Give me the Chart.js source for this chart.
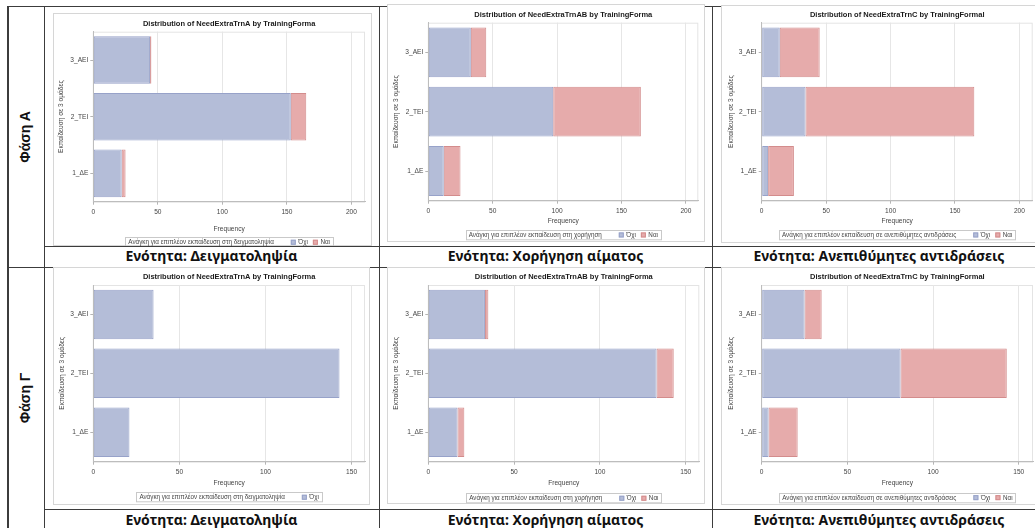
<!DOCTYPE html>
<html lang="el">
<head>
<meta charset="utf-8">
<title>Ανάγκη για επιπλέον εκπαίδευση ανά εκπαίδευση</title>
<script src="https://cdn.jsdelivr.net/npm/chart.js@4.4.1/dist/chart.umd.min.js"></script>
<style>
  html, body { margin: 0; padding: 0; background: #fff; }
  body { width: 1035px; height: 528px; position: relative; overflow: hidden; }
  .hl, .vl { position: absolute; background: #3c3c3c; }
  .hl { height: 1.5px; }
  .vl { width: 1.5px; }
  canvas { position: absolute; }
  .cap {
    position: absolute; text-align: center; white-space: nowrap;
    font-family: "Noto Sans", "Open Sans", sans-serif; font-weight: 700;
    font-size: 14px; color: #111; line-height: 18px;
  }
  .phase {
    position: absolute; white-space: nowrap; text-align: center;
    font-family: "Liberation Sans", Arial, sans-serif; font-weight: 700;
    font-size: 14px; color: #111; width: 120px; line-height: 16px;
    transform: translate(-50%, -50%) rotate(-90deg);
  }
</style>
</head>
<body>

<!-- table rules -->
<div class="hl" style="left:7px; top:5.5px; width:1040px;"></div>
<div class="vl" style="left:7px; top:6px; height:530px;"></div>
<div class="vl" style="left:43.5px; top:6px; height:530px;"></div>
<div class="vl" style="left:378.8px; top:6px; height:530px;"></div>
<div class="vl" style="left:711.8px; top:6px; height:530px;"></div>
<div class="hl" style="left:44px; top:245.5px; width:1000px;"></div>
<div class="hl" style="left:7px; top:266.8px; width:1040px;"></div>
<div class="hl" style="left:44px; top:508.8px; width:1000px;"></div>

<div class="phase" style="left:25px; top:137px;">Φάση Α</div>
<div class="phase" style="left:25px; top:398px;">Φάση Γ</div>

<div class="cap" style="left:44px; width:335px; top:247px;">Ενότητα: Δειγματοληψία</div>
<div class="cap" style="left:379px; width:333px; top:247px;">Ενότητα: Χορήγηση αίματος</div>
<div class="cap" style="left:712px; width:334px; top:247px;">Ενότητα: Ανεπιθύμητες αντιδράσεις</div>
<div class="cap" style="left:44px; width:335px; top:511px;">Ενότητα: Δειγματοληψία</div>
<div class="cap" style="left:379px; width:333px; top:511px;">Ενότητα: Χορήγηση αίματος</div>
<div class="cap" style="left:712px; width:334px; top:511px;">Ενότητα: Ανεπιθύμητες αντιδράσεις</div>

<canvas id="c1"></canvas>
<canvas id="c2"></canvas>
<canvas id="c3"></canvas>
<canvas id="c4"></canvas>
<canvas id="c5"></canvas>
<canvas id="c6"></canvas>

<script>
// Training groups, top to bottom
const categories = ['3_ΑΕΙ', '2_ΤΕΙ', '1_ΔΕ'];
const answerNo = 'Όχι';
const answerYes = 'Ναι';

// Phase A: frequency of "no" / "yes" answers per group
const samplingA_no = [44, 153, 22];
const samplingA_yes = [1, 12, 3];
const bloodA_no = [33, 97, 12];
const bloodA_yes = [12, 68, 13];
const reactA_no = [14, 34, 5];
const reactA_yes = [31, 131, 20];

// Phase Γ
const samplingG_no = [35, 143, 21];
const bloodG_no = [33, 133, 17];
const bloodG_yes = [2, 10, 4];
const reactG_no = [25, 81, 4];
const reactG_yes = [10, 62, 17];

// Frequency axis ticks
const freqTicksA = [0, 50, 100, 150, 200];
const freqTicksG = [0, 50, 100, 150];

const titleSampling = 'Distribution of NeedExtraTrnA by TrainingForma';
const titleBlood = 'Distribution of NeedExtraTrnAB by TrainingForma';
const titleReact = 'Distribution of NeedExtraTrnC by TrainingFormal';
const legendSampling = 'Ανάγκη για επιπλέον εκπαίδευση στη δειγματοληψία';
const legendBlood = 'Ανάγκη για επιπλέον εκπαίδευση στη χορήγηση';
const legendReact = 'Ανάγκη για επιπλέον εκπαίδευση σε ανεπιθύμητες αντιδράσεις';
const yAxisTitle = 'Εκπαίδευση σε 3 ομάδες';
const xAxisTitle = 'Frequency';

const FONT = '"Liberation Sans", Arial, sans-serif';
const NO_FILL = '#b4bdd8', NO_EDGE = '#97a2c9';
const YES_FILL = '#e6abab', YES_EDGE = '#d38c8c';

// Panel geometry (page pixels): frame box, plot box, text rows
const panels = [
  { id: 'c1', frame: [53, 13, 372, 246], plot: [93.3, 31.7, 365, 201.7], titleY: 24, freqY: 229.3, legTop: 237.3, yTitleX: 60.7, xmax: 210.5, ticks: freqTicksA,
    title: titleSampling, legend: legendSampling, series: [[answerNo, samplingA_no], [answerYes, samplingA_yes]] },
  { id: 'c2', frame: [387, 4, 705, 242], plot: [428.3, 22.7, 698.3, 200.7], titleY: 15, freqY: 220.7, legTop: 230, yTitleX: 395.7, xmax: 209.6, ticks: freqTicksA,
    title: titleBlood, legend: legendBlood, series: [[answerNo, bloodA_no], [answerYes, bloodA_yes]] },
  { id: 'c3', frame: [721, 5, 1036, 243], plot: [761.7, 22.7, 1032.7, 200.7], titleY: 15, freqY: 220.7, legTop: 230, yTitleX: 730.7, xmax: 210.3, ticks: freqTicksA,
    title: titleReact, legend: legendReact, series: [[answerNo, reactA_no], [answerYes, reactA_yes]] },
  { id: 'c4', frame: [53, 267, 370, 505], plot: [93.3, 285, 365, 461.7], titleY: 277.3, freqY: 482.7, legTop: 492.3, yTitleX: 61.7, xmax: 157.8, ticks: freqTicksG,
    title: titleSampling, legend: legendSampling, series: [[answerNo, samplingG_no]] },
  { id: 'c5', frame: [387, 267, 705, 504], plot: [428.3, 285, 699.3, 461.7], titleY: 277.3, freqY: 483.3, legTop: 493.3, yTitleX: 396, xmax: 157.9, ticks: freqTicksG,
    title: titleBlood, legend: legendBlood, series: [[answerNo, bloodG_no], [answerYes, bloodG_yes]] },
  { id: 'c6', frame: [721, 267, 1036, 505], plot: [761.7, 285, 1033, 461.7], titleY: 277.3, freqY: 482.7, legTop: 492.7, yTitleX: 730.7, xmax: 158.3, ticks: freqTicksG,
    title: titleReact, legend: legendReact, series: [[answerNo, reactG_no], [answerYes, reactG_yes]] }
];

// Frame, plot wall, titles and the boxed inline legend
const sasFrame = {
  id: 'sasFrame',
  beforeDraw(chart, args, o) {
    const { ctx, width, height, chartArea: a } = chart;
    ctx.save();
    ctx.fillStyle = '#fff';
    ctx.fillRect(0, 0, width, height);
    ctx.strokeStyle = '#d6d6d6';
    ctx.lineWidth = 1;
    ctx.strokeRect(0.5, 0.5, width - 1, height - 1);
    ctx.strokeStyle = '#e4e4e4';
    ctx.strokeRect(a.left, a.top + 0.5, a.width - 0.5, a.height);
    ctx.restore();
  },
  afterDraw(chart, args, o) {
    const { ctx, chartArea: a } = chart;
    const cx = (a.left + a.right) / 2;
    ctx.save();
    ctx.textAlign = 'center';
    ctx.textBaseline = 'middle';
    ctx.fillStyle = '#1a1a1a';
    ctx.font = 'bold 7.5px ' + FONT;
    ctx.fillText(o.title, cx, o.titleY);

    ctx.fillStyle = '#444';
    ctx.font = '6.6px ' + FONT;
    ctx.fillText(xAxisTitle, cx, o.freqY);

    ctx.save();
    ctx.translate(o.yTitleX, (a.top + a.bottom) / 2);
    ctx.rotate(-Math.PI / 2);
    ctx.fillText(yAxisTitle, 0, 0);
    ctx.restore();

    // legend
    ctx.font = '6.3px ' + FONT;
    const padL = 3, gap = 17, sq = 5, sqGap = 2.5, itemGap = 5, padR = 3, h = 9.3;
    const datasets = chart.data.datasets;
    let w = padL + ctx.measureText(o.legend).width + gap;
    datasets.forEach((d, i) => {
      w += sq + sqGap + ctx.measureText(d.label).width + (i < datasets.length - 1 ? itemGap : 0);
    });
    w += padR;
    const x0 = cx - w / 2, y0 = o.legTop;
    ctx.strokeStyle = '#c9c9c9';
    ctx.lineWidth = 1;
    ctx.strokeRect(Math.round(x0) + 0.5, Math.round(y0) + 0.5, Math.round(w), h);
    const ym = y0 + h / 2 + 0.8;
    ctx.textAlign = 'left';
    ctx.fillStyle = '#444';
    let x = x0 + padL;
    ctx.fillText(o.legend, x, ym);
    x += ctx.measureText(o.legend).width + gap;
    datasets.forEach((d) => {
      ctx.fillStyle = d.backgroundColor;
      ctx.fillRect(x, ym - sq / 2 - 0.5, sq, sq);
      ctx.strokeStyle = d.borderColor;
      ctx.strokeRect(x + 0.5, ym - sq / 2, sq - 1, sq - 1);
      x += sq + sqGap;
      ctx.fillStyle = '#444';
      ctx.fillText(d.label, x, ym);
      x += ctx.measureText(d.label).width + itemGap;
    });
    ctx.restore();
  }
};

panels.forEach((p) => {
  const [fl, ft, fr, fb] = p.frame;
  const [pl, pt, pr, pb] = p.plot;
  const canvas = document.getElementById(p.id);
  canvas.width = fr - fl;
  canvas.height = fb - ft;
  canvas.style.left = fl + 'px';
  canvas.style.top = ft + 'px';
  canvas.style.width = (fr - fl) + 'px';
  canvas.style.height = (fb - ft) + 'px';

  const datasets = p.series.map(([label, values], i) => ({
    label,
    data: values,
    backgroundColor: i === 0 ? NO_FILL : YES_FILL,
    borderColor: i === 0 ? NO_EDGE : YES_EDGE,
    borderWidth: 1,
    borderSkipped: false,
    barPercentage: 0.84,
    categoryPercentage: 1
  }));

  new Chart(canvas, {
    type: 'bar',
    data: { labels: categories, datasets },
    plugins: [sasFrame],
    options: {
      indexAxis: 'y',
      responsive: false,
      animation: false,
      devicePixelRatio: 1,
      layout: { padding: { left: 0, top: pt - ft, right: fr - pr, bottom: 0 } },
      scales: {
        x: {
          stacked: true,
          min: 0,
          max: p.xmax,
          afterFit: (s) => { s.height = fb - pb; },
          afterBuildTicks: (s) => { s.ticks = p.ticks.map((v) => ({ value: v })); },
          ticks: { font: { family: FONT, size: 6.6 }, color: '#444', padding: 3.5, maxRotation: 0 },
          grid: { color: '#e6e6e6', tickColor: '#b5b5b5', tickLength: 3, lineWidth: 1 },
          border: { color: '#bdbdbd', width: 1 }
        },
        y: {
          stacked: true,
          afterFit: (s) => { s.width = pl - fl; },
          ticks: { font: { family: FONT, size: 6.6 }, color: '#444', padding: 2 },
          grid: { display: true, drawOnChartArea: false, offset: false, tickColor: '#b5b5b5', tickLength: 3 },
          border: { color: '#bdbdbd', width: 1 }
        }
      },
      plugins: {
        legend: { display: false },
        title: { display: false },
        tooltip: { enabled: false },
        sasFrame: { title: p.title, legend: p.legend, titleY: p.titleY - ft, freqY: p.freqY - ft, legTop: p.legTop - ft, yTitleX: p.yTitleX - fl }
      }
    }
  });
});
</script>
</body>
</html>
